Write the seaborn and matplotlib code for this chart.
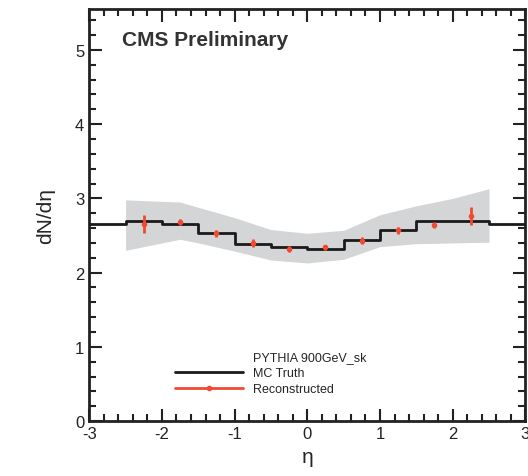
import numpy as np
import pandas as pd
import matplotlib
matplotlib.use('Agg')
import matplotlib.pyplot as plt
import seaborn as sns
from matplotlib.lines import Line2D

# MC truth histogram (bin edges and contents), flat value outside |eta|<2.5
edges = [-3.0, -2.5, -2.0, -1.5, -1.0, -0.5, 0.0, 0.5, 1.0, 1.5, 2.0, 2.5, 3.0]
truth = [2.65, 2.69, 2.65, 2.54, 2.39, 2.35, 2.32, 2.44, 2.58, 2.69, 2.69, 2.65]

# reconstructed points
eta_reco = [-2.25, -1.75, -1.25, -0.75, -0.25, 0.25, 0.75, 1.25, 1.75, 2.25]
dndeta_reco = [2.65, 2.68, 2.53, 2.40, 2.32, 2.34, 2.43, 2.57, 2.64, 2.76]
err_reco = [0.12, 0.04, 0.05, 0.05, 0.04, 0.03, 0.05, 0.05, 0.04, 0.12]

# systematic band
eta_band = [-2.5, -2.0, -1.75, -1.5, -1.0, -0.5, 0.0, 0.5, 1.0, 1.5, 2.0, 2.5]
band_hi = [2.98, 2.96, 2.95, 2.88, 2.74, 2.58, 2.53, 2.57, 2.78, 2.90, 3.00, 3.13]
band_lo = [2.30, 2.40, 2.45, 2.40, 2.29, 2.17, 2.13, 2.18, 2.35, 2.39, 2.40, 2.41]

sns.set_style('ticks')
plt.rcParams['font.family'] = ['Liberation Sans', 'DejaVu Sans']
plt.rcParams['axes.unicode_minus'] = False

fig = plt.figure(figsize=(5.28, 4.77), dpi=100)
ax = fig.add_axes([0.169, 0.115, 0.826, 0.864])

ax.fill_between(eta_band, band_lo, band_hi, color='#d4d5d7', lw=0, zorder=1)

df_truth = pd.DataFrame({'eta': edges, 'val': truth + [truth[-1]]})
sns.lineplot(data=df_truth, x='eta', y='val', drawstyle='steps-post',
             estimator=None, color='#1a1a1a', lw=2, ax=ax, zorder=3)

ax.errorbar(eta_reco, dndeta_reco, yerr=err_reco, fmt='o', ms=3,
            color='#f04a30', ecolor='#f04a30', elinewidth=2, capsize=0, zorder=4)

ax.set_xlim(-3, 3)
ax.set_ylim(0, 5.55)
ax.set_xticks(np.arange(-3, 4, 1))
ax.set_yticks(np.arange(0, 6, 1))
ax.set_xticks(np.arange(-3, 3.01, 0.2), minor=True)
ax.set_yticks(np.arange(0, 5.51, 0.2), minor=True)
ax.tick_params(which='both', direction='in', top=True, right=True, width=1.5,
               labelsize=12, colors='#222222')
ax.tick_params(which='major', length=9)
ax.tick_params(which='minor', length=5)
for s in ax.spines.values():
    s.set_linewidth(2)
    s.set_color('#222222')

ax.set_xlabel('η', fontsize=15, labelpad=4)
ax.set_ylabel('dN/dη', fontsize=15, labelpad=14)

ax.text(0.076, 0.913, 'CMS Preliminary', transform=ax.transAxes,
        fontsize=15, fontweight='bold', color='#333333')

handles = [Line2D([], [], color='none'),
           Line2D([], [], color='#1a1a1a', lw=2),
           Line2D([], [], color='#f04a30', lw=2, marker='o', ms=3)]
labels = ['PYTHIA 900GeV_sk', 'MC Truth', 'Reconstructed']
ax.legend(handles, labels, loc='lower left', bbox_to_anchor=(0.17, 0.035),
          frameon=False, fontsize=9, handlelength=5.5, labelspacing=0.35,
          handletextpad=0.8)

fig.savefig('out.png', dpi=100)
